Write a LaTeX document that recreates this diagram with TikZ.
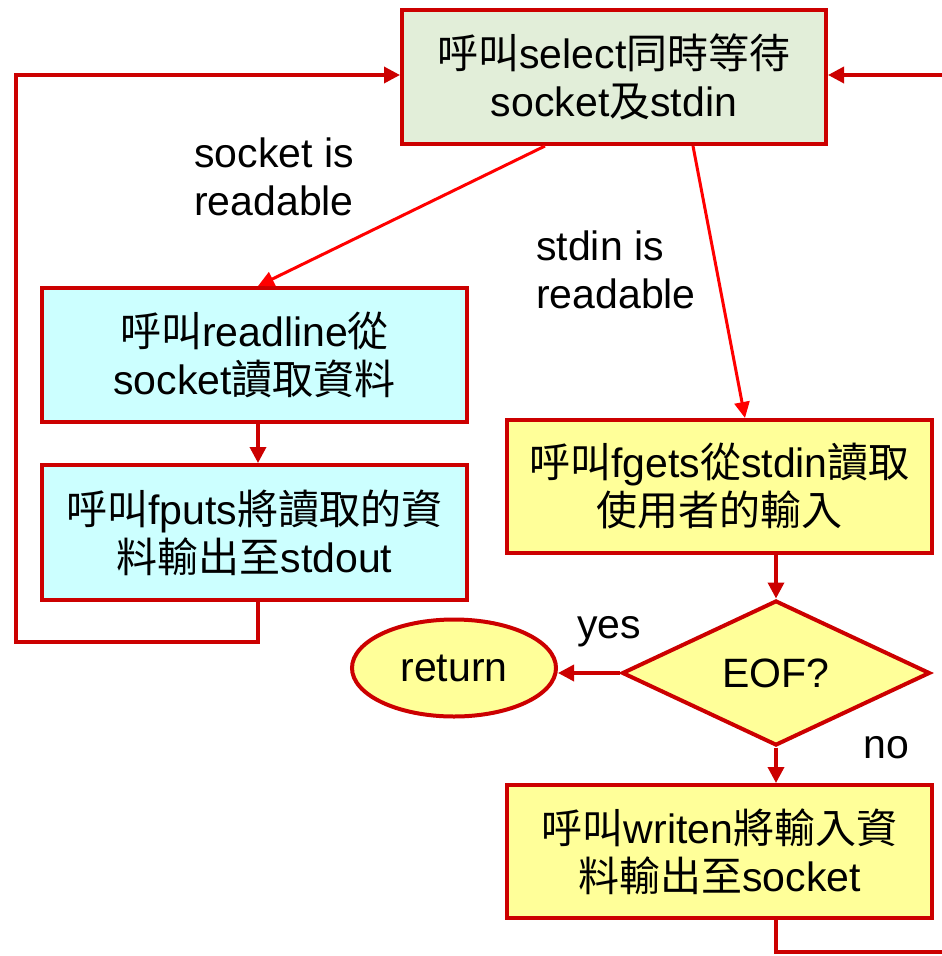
\documentclass[tikz,border=0pt]{standalone}
\usepackage{fontspec}
\setmainfont{Liberation Sans}
\newfontfamily\cjk{Noto Sans CJK TC}
\usetikzlibrary{arrows.meta,shapes.geometric}
\newcommand{\zh}[1]{{\cjk #1}}
\definecolor{boxred}{HTML}{CC0000}
\definecolor{linkred}{HTML}{FF0000}
\definecolor{boxgreen}{HTML}{E2EED9}
\definecolor{boxcyan}{HTML}{CCFFFF}
\definecolor{boxyellow}{HTML}{FFFF99}
\tikzset{
  every node/.style={font=\fontsize{41}{48}\selectfont, inner sep=0pt},
  stepbox/.style={draw=boxred, line width=4pt, rectangle, align=center,
    minimum width=425pt, minimum height=134pt},
  decision/.style={draw=boxred, line width=4pt, diamond, fill=boxyellow,
    minimum width=308pt, minimum height=145pt},
  endpoint/.style={draw=boxred, line width=4pt, ellipse, fill=boxyellow,
    minimum width=204pt, minimum height=97pt},
  flow/.style={draw=boxred, line width=3.5pt,
    -{Triangle[length=16pt,width=16pt]}},
  branch/.style={draw=linkred, line width=3pt,
    -{Triangle[length=16pt,width=15pt]}},
  lbl/.style={align=left}
}
\begin{document}
\begin{tikzpicture}[x=1pt, y=-1pt]
\clip (0,0) rectangle (942,956);
\fill[white] (0,0) rectangle (942,956);

% process boxes
\node[stepbox, fill=boxgreen, minimum width=424pt] (sel) at (614,77)
  {\zh{呼叫}select\zh{同時等待}\\socket\zh{及}stdin};
\node[stepbox, fill=boxcyan] (rdl) at (254.5,355)
  {\zh{呼叫}readline\zh{從}\\socket\zh{讀取資料}};
\node[stepbox, fill=boxcyan, minimum height=135pt] (fpt) at (254.5,532.5)
  {\zh{呼叫}fputs\zh{將讀取的資}\\\zh{料輸出至}stdout};
\node[stepbox, fill=boxyellow, minimum height=133pt] (fgt) at (719.5,486.5)
  {\zh{呼叫}fgets\zh{從}stdin\zh{讀取}\\\zh{使用者的輸入}};
\node[decision] (eof) at (776,673) {EOF?};
\node[endpoint] (ret) at (454,668) {return};
\node[stepbox, fill=boxyellow, minimum height=133pt] (wrt) at (719.5,851.5)
  {\zh{呼叫}writen\zh{將輸入資}\\\zh{料輸出至}socket};

% branch labels
\node[lbl] (lsock) at (274,177) {socket is\\readable};
\node[lbl] (lstdin) at (616,270) {stdin is\\readable};
\node (lyes) at (609,632) {yes};
\node (lno) at (886,748) {no};

% loop return points
\coordinate (lt) at (16,75);
\coordinate (rt) at (990,75);

% connectors
\draw[branch] ([xshift=-69pt]sel.south) -- ([xshift=3.5pt]rdl.north);
\draw[branch] ([xshift=79pt]sel.south) -- ([xshift=25.5pt]fgt.north);
\draw[flow] ([xshift=3.5pt]rdl.south) -- ([xshift=3.5pt]fpt.north);
\draw[flow] (fgt.south -| eof.north) -- (eof.north);
\draw[flow] (eof.west) -- (eof.west -| ret.east);
\draw[flow] (eof.south) -- (wrt.north -| eof.south);
\draw[flow] ([xshift=3.5pt]fpt.south) -- ++(0,40) -| (lt) -- (sel.west |- lt);
\draw[flow] (wrt.south -| eof.south) -- ++(0,32) -| (rt) -- (sel.east |- rt);
\end{tikzpicture}
\end{document}
